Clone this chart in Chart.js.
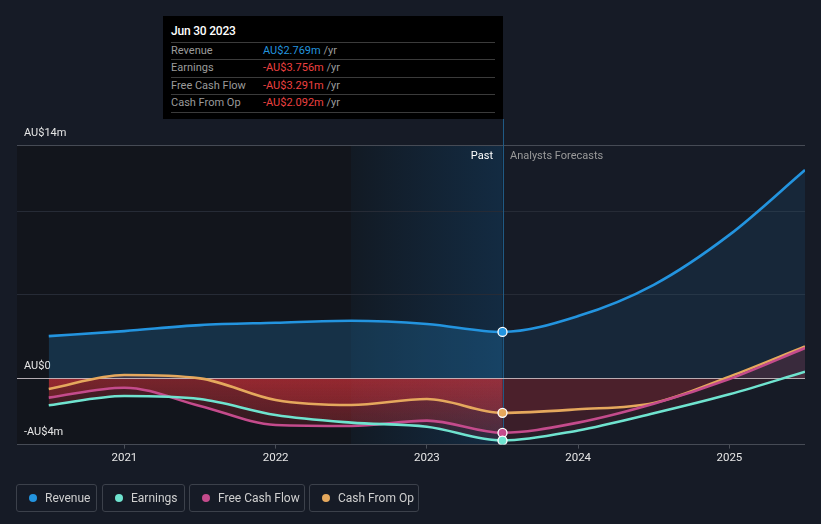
<!DOCTYPE html>
<html><head><meta charset="utf-8">
<script src="https://cdn.jsdelivr.net/npm/chart.js@4.4.0/dist/chart.umd.min.js"></script>
<style>
html,body{margin:0;padding:0;background:#161b26;width:821px;height:524px;overflow:hidden;font-family:Roboto,"Noto Sans",sans-serif;}
#wrap{position:relative;width:821px;height:524px;}
#c{position:absolute;left:0;top:0;}
.tip{position:absolute;left:163px;top:16px;width:340px;height:103px;background:#000;}
.tip .t{position:absolute;left:8px;top:6px;height:18px;line-height:18px;font-size:12px;color:#fff;font-weight:500;letter-spacing:-0.2px;}
.tip .r{position:absolute;left:8px;width:324px;height:17px;line-height:15px;border-top:1px solid #3b3b3b;font-size:11px;color:#9b9b9b;}
.tip .r.last{border-bottom:1px solid #3b3b3b;}
.tip .r .v{position:absolute;left:92px;top:0;}
.tip .r .u{color:#9b9b9b;}
.lbl{position:absolute;font-size:11px;line-height:14px;}
.leg{position:absolute;top:484px;border:1px solid #3c414b;border-radius:3px;box-sizing:border-box;height:28px;font-size:12px;color:#cfcfcf;line-height:26px;}
.leg i{position:absolute;left:12px;top:9px;width:8px;height:8px;border-radius:50%;}
.leg span{position:absolute;left:28px;top:0;}
</style>
</head><body>
<div id="wrap">
<canvas id="c" width="821" height="524"></canvas>
<div class="tip">
  <div class="t">Jun 30 2023</div>
  <div class="r" style="top:26px">Revenue<span class="v" style="color:#2394df">AU$2.769m <span class="u">/yr</span></span></div>
  <div class="r" style="top:43px">Earnings<span class="v" style="color:#ec4040">-AU$3.756m <span class="u">/yr</span></span></div>
  <div class="r" style="top:60.5px">Free Cash Flow<span class="v" style="color:#ec4040">-AU$3.291m <span class="u">/yr</span></span></div>
  <div class="r last" style="top:77.5px">Cash From Op<span class="v" style="color:#ec4040">-AU$2.092m <span class="u">/yr</span></span></div>
</div>
<div class="lbl" style="left:426px;width:67px;text-align:right;top:149px;color:#fff">Past</div>
<div class="lbl" style="left:510px;top:149px;color:#9a9a9a">Analysts Forecasts</div>
<div class="leg" style="left:16px;width:81px"><i style="background:#2394df"></i><span>Revenue</span></div>
<div class="leg" style="left:102px;width:83px"><i style="background:#6fe3cf"></i><span>Earnings</span></div>
<div class="leg" style="left:189px;width:116px"><i style="background:#c44b8c"></i><span>Free Cash Flow</span></div>
<div class="leg" style="left:309px;width:110px"><i style="background:#e5a85d"></i><span>Cash From Op</span></div>
</div>
<script>
// ---- data (AU$ millions) ----
const years      = [2020.5, 2021.0, 2021.5, 2022.0, 2022.5, 2023.0, 2023.5, 2024.0, 2024.5, 2025.0, 2025.5];
const revenue    = [2.52, 2.82, 3.18, 3.32, 3.44, 3.25, 2.769, 3.72, 5.6, 8.6, 12.5];
const earnings   = [-1.64, -1.08, -1.26, -2.22, -2.68, -2.93, -3.756, -3.15, -2.12, -0.98, 0.38];
const freeCash   = [-1.18, -0.58, -1.68, -2.82, -2.88, -2.56, -3.291, -2.68, -1.55, -0.06, 1.8];
const cashFromOp = [-0.66, 0.18, -0.02, -1.32, -1.62, -1.26, -2.092, -1.88, -1.5, 0.08, 1.9];
const xTickValues = [2021, 2022, 2023, 2024, 2025];
const yTickValues = [-4, 0, 5, 10, 14];
const yTickLabels = ['-AU$4m', 'AU$0', '', '', 'AU$14m'];
const nowX = 2023.5;
const pastBandStart = 2022.5;

const pts = arr => years.map((x, i) => ({x, y: arr[i]}));

// fill patterns: brighter in the past, dimmer in the forecast
const patCache = {};
function fillPattern(chart, kind) {
  const a = chart.chartArea;
  if (!a) return 'rgba(0,0,0,0)';
  const key = kind + a.left + a.right + a.top + a.bottom;
  if (patCache[key]) return patCache[key];
  const W = chart.width, H = chart.height;
  const cv = document.createElement('canvas');
  cv.width = W; cv.height = H;
  const c = cv.getContext('2d');
  const xn = chart.scales.x.getPixelForValue(nowX);
  const y0 = chart.scales.y.getPixelForValue(0);
  if (kind === 'blue') {
    c.fillStyle = 'rgba(35,148,223,0.22)';
    c.fillRect(0, 0, xn, H);
    c.fillStyle = 'rgba(35,148,223,0.10)';
    c.fillRect(xn, 0, W - xn, H);
  } else {
    const g = c.createLinearGradient(0, y0, 0, a.bottom);
    g.addColorStop(0, 'rgba(215,50,58,0.30)');
    g.addColorStop(1, 'rgba(215,50,58,0.12)');
    c.fillStyle = g;
    c.fillRect(0, y0, xn, H - y0);
    c.fillStyle = 'rgba(215,50,58,0.22)';
    c.fillRect(0, 0, xn, y0);
    c.fillStyle = 'rgba(220,50,60,0.10)';
    c.fillRect(xn, 0, W - xn, H);
  }
  const p = chart.ctx.createPattern(cv, 'no-repeat');
  patCache[key] = p;
  return p;
}

function mkSeries(label, arr, color, kind) {
  return {
    label, data: pts(arr), borderColor: color, borderWidth: 2.6,
    fill: 'origin',
    backgroundColor: c => fillPattern(c.chart, kind),
    cubicInterpolationMode: 'monotone',
    pointRadius: c => (c.raw && c.raw.x === nowX ? 4.5 : 0),
    pointHoverRadius: 0,
    pointBackgroundColor: color, pointBorderColor: '#ffffff', pointBorderWidth: 1.3
  };
}

const bgPlugin = {
  id: 'bg',
  beforeDraw(chart) {
    const {ctx, chartArea: a, scales: {x}} = chart;
    const xs = x.getPixelForValue(pastBandStart), xn = x.getPixelForValue(nowX);
    ctx.save();
    ctx.fillStyle = '#12151c';
    ctx.fillRect(a.left, a.top, xs - a.left, a.bottom - a.top);
    const g = ctx.createLinearGradient(xs, 0, xn, 0);
    g.addColorStop(0, '#121a24');
    g.addColorStop(1, '#132b42');
    ctx.fillStyle = g;
    ctx.fillRect(xs, a.top, xn - xs, a.bottom - a.top);
    ctx.restore();
  },
  beforeDatasetsDraw(chart) {
    const {ctx, chartArea: a, scales: {x, y}} = chart;
    const xn = Math.round(x.getPixelForValue(nowX)) + 0.5;
    const y0 = Math.round(y.getPixelForValue(0)) + 0.5;
    ctx.save();
    ctx.strokeStyle = '#1f5a85';
    ctx.lineWidth = 1;
    ctx.beginPath(); ctx.moveTo(xn, 119); ctx.lineTo(xn, a.bottom); ctx.stroke();
    ctx.strokeStyle = 'rgba(205,195,200,0.85)';
    ctx.beginPath(); ctx.moveTo(a.left, y0); ctx.lineTo(a.right, y0); ctx.stroke();
    ctx.restore();
  }
};

new Chart(document.getElementById('c'), {
  type: 'line',
  data: {
    datasets: [
      mkSeries('Revenue', revenue, '#2394df', 'blue'),
      mkSeries('Earnings', earnings, '#6fe3cf', 'red'),
      mkSeries('Free Cash Flow', freeCash, '#c44b8c', 'red'),
      mkSeries('Cash From Op', cashFromOp, '#e5a85d', 'red')
    ]
  },
  options: {
    responsive: false, animation: false, events: [],
    layout: {padding: {left: 17, right: 16, top: 145, bottom: 0}},
    plugins: {legend: {display: false}, tooltip: {enabled: false}, filler: {drawTime: 'beforeDatasetsDraw'}},
    scales: {
      x: {
        type: 'linear', min: 2020.29, max: 2025.5,
        afterBuildTicks: s => { s.ticks = xTickValues.map(v => ({value: v})); },
        afterFit: s => { s.height = 524 - 444.6; },
        border: {display: false},
        grid: {drawOnChartArea: false, drawTicks: true, tickLength: 4, color: '#4a4f58'},
        ticks: {color: '#e6e6e6', font: {family: 'Roboto', size: 11.5}, padding: 3, callback: v => String(v), maxRotation: 0}
      },
      y: {
        min: -4, max: 14,
        afterBuildTicks: s => { s.ticks = yTickValues.map(v => ({value: v})); },
        afterFit: s => { s.width = 0; },
        border: {display: false},
        grid: {drawTicks: false, color: c => (c.tick && (c.tick.value === 14 || c.tick.value === -4) ? '#464b55' : '#262b36')},
        ticks: {mirror: true, padding: 7, labelOffset: -12, color: '#e6e6e6', font: {family: 'Roboto', size: 11},
          callback: (v) => { const i = yTickValues.indexOf(v); return i >= 0 ? yTickLabels[i] : ''; }}
      }
    }
  },
  plugins: [bgPlugin]
});
</script>
</body></html>
